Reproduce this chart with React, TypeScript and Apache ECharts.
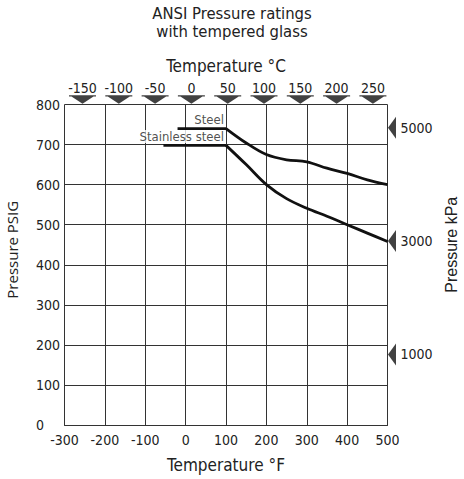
import React, { useEffect, useRef } from "react";
import * as echarts from "echarts";

// Temperature (°F) tick range and pressure (PSIG)
const fMin = -300;
const fMax = 500;
const psiMin = 0;
const psiMax = 800;

// Secondary scales (as drawn in the reference)
const celsiusLabels = [-150, -100, -50, 0, 50, 100, 150, 200, 250];
const celsiusMin = -174.8;
const celsiusMax = 270.1;
const kpaLabels = [1000, 3000, 5000];
const kpaMin = -244;
const kpaMax = 5410;

// Steel rating
const steelFlatTemps = [-20, 100];
const steelFlatPsi = [740, 740];
const steelCurveTemps = [100, 150, 200, 250, 300, 350, 400, 450, 500];
const steelCurvePsi = [740, 704, 675, 662, 657, 641, 628, 612, 600];

// Stainless steel rating
const ssFlatTemps = [-55, 100];
const ssFlatPsi = [698, 698];
const ssCurveTemps = [100, 150, 200, 250, 300, 350, 400, 450, 500];
const ssCurvePsi = [698, 650, 600, 565, 541, 521, 500, 479, 458];

const seriesLabels = ["Steel", "Stainless steel"];
const titleLines = ["ANSI Pressure ratings", "with tempered glass"];

const zip = (a: number[], b: number[]) => a.map((v, i) => [v, b[i]]);

const FONT = "DejaVu Sans Condensed";
const TXT = "#222";
const GRID = "#333";
const LINE = "#111";

export default function App() {
  const ref = useRef<HTMLDivElement>(null);
  useEffect(() => {
    if (!ref.current) return;
    const chart = echarts.init(ref.current, null, { renderer: "svg" });
    const curveStyle = { color: LINE, width: 2.8 };
    const titleStyle = {
      fontFamily: FONT,
      fontSize: 16.5,
      fontWeight: "normal",
      color: TXT,
      lineHeight: 16.5,
    };
    chart.setOption({
      animation: false,
      backgroundColor: "#fff",
      title: [
        { text: titleLines[0], left: "center", top: 5, padding: 0, textStyle: titleStyle },
        { text: titleLines[1], left: "center", top: 23, padding: 0, textStyle: titleStyle },
      ],
      grid: {
        left: 64.5,
        right: 76.5,
        top: 104.5,
        bottom: 54,
        containLabel: false,
        outerBoundsMode: "none",
      },
      xAxis: [
        {
          type: "value",
          min: fMin,
          max: fMax,
          interval: 100,
          position: "bottom",
          axisLine: { show: true, lineStyle: { color: GRID, width: 1 } },
          axisTick: { show: false },
          axisLabel: { margin: 8, fontFamily: FONT, fontSize: 14, color: TXT },
          splitLine: { show: true, lineStyle: { color: GRID, width: 1 } },
          name: "Temperature °F",
          nameLocation: "middle",
          nameGap: 31,
          nameTextStyle: { fontFamily: FONT, fontSize: 17, color: TXT },
        },
        {
          type: "value",
          min: celsiusMin,
          max: celsiusMax,
          position: "top",
          axisLine: { show: false },
          axisTick: { show: false },
          splitLine: { show: false },
          axisLabel: {
            customValues: celsiusLabels,
            margin: 9.5,
            fontFamily: FONT,
            fontSize: 14,
            color: TXT,
          },
          name: "Temperature °C",
          nameLocation: "middle",
          nameGap: 30,
          nameTextStyle: { fontFamily: FONT, fontSize: 17, color: TXT },
        },
      ],
      yAxis: [
        {
          type: "value",
          min: psiMin,
          max: psiMax,
          interval: 100,
          position: "left",
          axisLine: { show: true, lineStyle: { color: GRID, width: 1 } },
          axisTick: { show: false },
          axisLabel: {
            margin: 28.5,
            align: "left",
            fontFamily: FONT,
            fontSize: 14,
            color: TXT,
          },
          splitLine: { show: true, lineStyle: { color: GRID, width: 1 } },
          name: "Pressure PSIG",
          nameLocation: "middle",
          nameRotate: 90,
          nameGap: 45,
          nameTextStyle: {
            fontFamily: "Open Sans",
            fontSize: 15,
            color: TXT,
            padding: [0, 0, 0, 30],
          },
        },
        {
          type: "value",
          min: kpaMin,
          max: kpaMax,
          position: "right",
          axisLine: { show: false },
          axisTick: { show: false },
          splitLine: { show: false },
          axisLabel: {
            customValues: kpaLabels,
            margin: 13,
            fontFamily: FONT,
            fontSize: 14,
            color: TXT,
            formatter: (v: number) => String(v),
          },
          name: "Pressure kPa",
          nameLocation: "middle",
          nameRotate: 90,
          nameGap: 56,
          nameTextStyle: {
            fontFamily: "Liberation Sans",
            fontSize: 16,
            color: TXT,
            padding: [0, 0, 0, 40],
          },
        },
      ],
      series: [
        {
          type: "line",
          data: zip(steelFlatTemps, steelFlatPsi),
          symbol: "none",
          lineStyle: curveStyle,
          silent: true,
        },
        {
          type: "line",
          data: zip(steelCurveTemps, steelCurvePsi),
          symbol: "none",
          smooth: 0.35,
          lineStyle: curveStyle,
          silent: true,
        },
        {
          type: "line",
          data: zip(ssFlatTemps, ssFlatPsi),
          symbol: "none",
          lineStyle: curveStyle,
          silent: true,
        },
        {
          type: "line",
          data: zip(ssCurveTemps, ssCurvePsi),
          symbol: "none",
          smooth: 0.35,
          lineStyle: curveStyle,
          silent: true,
        },
        {
          type: "scatter",
          data: [
            [steelFlatTemps[1], steelFlatPsi[1], seriesLabels[0]],
            [ssFlatTemps[1], ssFlatPsi[1], seriesLabels[1]],
          ],
          symbolSize: 1,
          itemStyle: { color: "rgba(0,0,0,0)" },
          silent: true,
          z: 5,
          label: {
            show: true,
            position: "left",
            distance: 0.5,
            offset: [0, -8.8],
            formatter: (p: any) => p.data[2],
            fontFamily: FONT,
            fontSize: 13,
            lineHeight: 13,
            color: TXT,
            backgroundColor: "#fff",
            padding: [0, 1],
          },
        },
        {
          type: "scatter",
          xAxisIndex: 1,
          yAxisIndex: 0,
          data: celsiusLabels.map((c) => [c, psiMax]),
          symbol: "path://M0,0 L27,0 L27,1.4 L24.5,1.4 L13.5,9 L2.5,1.4 L0,1.4 Z",
          symbolSize: [27, 8.5],
          symbolOffset: [0, -5],
          itemStyle: { color: LINE },
          clip: false,
          silent: true,
        },
        {
          type: "scatter",
          xAxisIndex: 0,
          yAxisIndex: 1,
          data: kpaLabels.map((k) => [fMax, k]),
          symbol: "path://M0,11 L8,0 L8,22 Z",
          symbolSize: [8, 22],
          symbolOffset: [4.5, 0],
          itemStyle: { color: LINE },
          clip: false,
          silent: true,
        },
      ],
    });
    return () => chart.dispose();
  }, []);
  return (
    <div
      ref={ref}
      style={{ position: "absolute", left: 0, top: 0, width: 464, height: 479 }}
    />
  );
}
